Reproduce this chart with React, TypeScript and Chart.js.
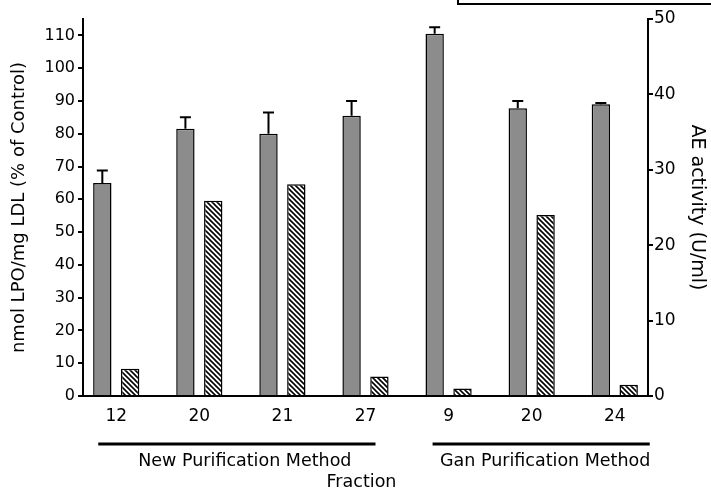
import React, { useEffect, useRef } from 'react';
import { Chart, registerables } from 'chart.js';

Chart.register(...registerables);

// ---- data ----
const categories = ['12', '20', '21', '27', '9', '20', '24'];
const lpoValues = [65, 81.5, 80, 85.5, 110.5, 87.8, 89];
const lpoErrors = [3.8, 3.5, 6.5, 4.5, 2, 2.2, 0.4];
const aeValues = [3.6, 25.9, 28.1, 2.6, 1.0, 24.0, 1.5];
const leftTicks = [0, 10, 20, 30, 40, 50, 60, 70, 80, 90, 100, 110];
const rightTicks = [0, 10, 20, 30, 40, 50];
const groupLabels = ['New Purification Method', 'Gan Purification Method'];
const groupFirst = [0, 4];
const groupLast = [3, 6];
const xAxisTitle = 'Fraction';
const leftTitle = 'nmol LPO/mg LDL (% of Control)';
const rightTitle = 'AE activity (U/ml)';

const FONT = 'DejaVu Sans';
const W = 711;
const H = 491;

function makeHatch(): CanvasPattern | string {
  const c = document.createElement('canvas');
  const s = 5;
  c.width = s;
  c.height = s;
  const g = c.getContext('2d');
  if (!g) return '#fff';
  g.fillStyle = '#fff';
  g.fillRect(0, 0, s, s);
  g.strokeStyle = '#000';
  g.lineWidth = 1.6;
  for (const k of [-s, 0, s]) {
    g.beginPath();
    g.moveTo(k - 1, -1);
    g.lineTo(k + s + 1, s + 1);
    g.stroke();
  }
  const p = g.createPattern(c, 'repeat');
  return p || '#fff';
}

const errorBarPlugin = {
  id: 'errorBars',
  afterDatasetsDraw(chart: any) {
    const meta = chart.getDatasetMeta(0);
    const yScale = chart.scales.y;
    const ctx = chart.ctx;
    ctx.save();
    ctx.strokeStyle = '#000';
    ctx.lineWidth = 2;
    meta.data.forEach((el: any, i: number) => {
      const top = yScale.getPixelForValue(lpoValues[i] + lpoErrors[i]);
      ctx.beginPath();
      ctx.moveTo(el.x, el.y);
      ctx.lineTo(el.x, top);
      ctx.moveTo(el.x - 5.5, top);
      ctx.lineTo(el.x + 5.5, top);
      ctx.stroke();
    });
    ctx.restore();
  },
};

const bottomPlugin = {
  id: 'bottomDecor',
  afterDraw(chart: any) {
    const ctx = chart.ctx;
    const x = chart.scales.x;
    const startPad = [18, 16];
    const endPad = [10, 35];
    const textShift = [8, 4];
    ctx.save();
    ctx.strokeStyle = '#000';
    ctx.fillStyle = '#000';
    ctx.lineWidth = 3;
    ctx.font = `17.5px "${FONT}"`;
    ctx.textAlign = 'center';
    ctx.textBaseline = 'middle';
    groupLabels.forEach((lab, g) => {
      const x0 = x.getPixelForValue(groupFirst[g]) - startPad[g];
      const x1 = x.getPixelForValue(groupLast[g]) + endPad[g];
      ctx.beginPath();
      ctx.moveTo(x0, 444);
      ctx.lineTo(x1, 444);
      ctx.stroke();
      ctx.fillText(lab, (x0 + x1) / 2 + textShift[g], 461);
    });
    ctx.fillText(xAxisTitle, (chart.chartArea.left + chart.chartArea.right) / 2 - 4, 482);
    ctx.restore();
  },
};

export default function App() {
  const ref = useRef<HTMLCanvasElement | null>(null);

  useEffect(() => {
    if (!ref.current) return;
    const hatch = makeHatch();
    const chart = new Chart(ref.current, {
      type: 'bar',
      data: {
        datasets: [
          {
            label: 'LPO',
            data: lpoValues.map((v, i) => ({ x: i, y: v })),
            backgroundColor: '#8c8c8c',
            borderColor: '#000',
            borderWidth: 1.5,
            yAxisID: 'y',
            barPercentage: 0.66,
            categoryPercentage: 0.67,
          },
          {
            label: 'AE',
            data: aeValues.map((v, i) => ({ x: i, y: v })),
            backgroundColor: hatch as any,
            borderColor: '#000',
            borderWidth: 1.5,
            yAxisID: 'y1',
            barPercentage: 0.66,
            categoryPercentage: 0.67,
          },
        ],
      },
      options: {
        animation: false,
        responsive: true,
        maintainAspectRatio: false,
        layout: { padding: { top: 19, left: 0, right: 0, bottom: 0 } },
        plugins: {
          legend: { display: false },
          tooltip: { enabled: false },
        },
        scales: {
          x: {
            type: 'linear',
            offset: false,
            min: -0.4,
            max: 6.4,
            afterBuildTicks: (axis: any) => {
              axis.ticks = categories.map((_, i) => ({ value: i }));
            },
            afterFit: (axis: any) => {
              axis.height = H - 396;
            },
            grid: { display: false, drawTicks: false },
            border: { display: true, color: '#000', width: 2 },
            ticks: {
              color: '#000',
              padding: 10,
              font: { family: FONT, size: 17 },
              maxRotation: 0,
              autoSkip: false,
              callback: (v: any) => categories[Math.round(Number(v))] ?? '',
            },
          },
          y: {
            position: 'left',
            min: 0,
            max: 115,
            afterBuildTicks: (axis: any) => {
              axis.ticks = leftTicks.map((v) => ({ value: v }));
            },
            afterFit: (axis: any) => {
              axis.width = 83;
            },
            grid: {
              drawOnChartArea: false,
              drawTicks: true,
              tickLength: 5,
              color: '#000',
              lineWidth: 2,
            },
            border: { display: true, color: '#000', width: 2 },
            ticks: {
              color: '#000',
              padding: 3,
              font: { family: FONT, size: 16 },
            },
            title: {
              display: true,
              text: leftTitle,
              color: '#000',
              font: { family: FONT, size: 18 },
              padding: { top: 9, bottom: 0 },
            },
          },
          y1: {
            position: 'right',
            min: 0,
            max: 50,
            afterBuildTicks: (axis: any) => {
              axis.ticks = rightTicks.map((v) => ({ value: v }));
            },
            afterFit: (axis: any) => {
              axis.width = W - 648;
            },
            grid: {
              drawOnChartArea: false,
              drawTicks: true,
              tickLength: 5,
              color: '#000',
              lineWidth: 2,
            },
            border: { display: true, color: '#000', width: 2 },
            ticks: {
              color: '#000',
              padding: 1,
              font: { family: FONT, size: 17 },
            },
            title: {
              display: true,
              text: rightTitle,
              color: '#000',
              font: { family: FONT, size: 19 },
              padding: { top: 3, bottom: 0 },
            },
          },
        },
      },
      plugins: [errorBarPlugin, bottomPlugin],
    });
    return () => chart.destroy();
  }, []);

  return (
    <div style={{ position: 'fixed', left: 0, top: 0, width: W, height: H, background: '#fff', overflow: 'hidden' }}>
      <canvas ref={ref} />
      <div
        style={{
          position: 'absolute',
          left: 457,
          top: -20,
          width: 300,
          height: 21,
          border: '2.5px solid #000',
          boxSizing: 'content-box',
        }}
      />
    </div>
  );
}
